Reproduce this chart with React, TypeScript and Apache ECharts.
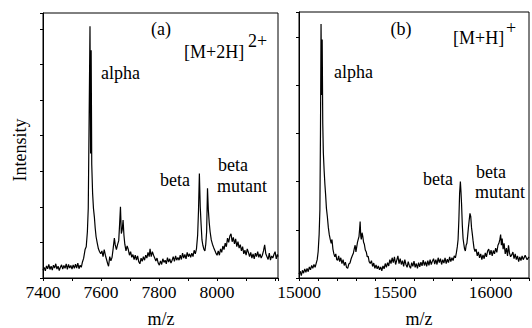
import React, { useEffect, useRef } from "react";
import * as echarts from "echarts";

// Panel (a): [M+2H]2+ spectrum, m/z vs intensity (intensity in y-tick units)
const spectrumA: [number, number][] = [
  [7400, 0.22], [7404, 0.3], [7408, 0.2], [7412, 0.34], [7416, 0.26], [7420, 0.38], [7424, 0.24], [7428, 0.33],
  [7432, 0.22], [7436, 0.36], [7440, 0.28], [7444, 0.4], [7448, 0.25], [7452, 0.33], [7456, 0.21], [7460, 0.3],
  [7464, 0.37], [7468, 0.25], [7472, 0.35], [7476, 0.27], [7480, 0.4], [7484, 0.24], [7488, 0.38], [7492, 0.28],
  [7496, 0.35], [7500, 0.25], [7504, 0.37], [7508, 0.27], [7512, 0.39], [7516, 0.28], [7520, 0.42], [7524, 0.26],
  [7528, 0.36], [7532, 0.3], [7536, 0.45], [7540, 0.55], [7545, 0.8], [7549, 0.88], [7553, 1.3],
  [7556, 1.96], [7559, 4.5], [7562, 7.08], [7564, 3.5], [7566, 6.4], [7568, 3.2], [7571, 2.38], [7574, 1.95],
  [7577, 1.72], [7580, 1.4], [7583, 1.16], [7587, 0.98], [7591, 0.82], [7595, 0.74], [7599, 0.68], [7603, 0.76],
  [7607, 0.6], [7611, 0.8], [7615, 0.64], [7619, 0.52], [7623, 0.4], [7626, 0.33], [7630, 0.6], [7634, 0.48],
  [7638, 0.58], [7642, 0.84], [7646, 1.12], [7649, 0.93], [7653, 0.8], [7657, 0.94], [7661, 1.05], [7664, 1.5],
  [7667, 2.0], [7670, 1.25], [7673, 1.35], [7676, 1.63], [7679, 1.2], [7682, 0.95], [7686, 0.76], [7690, 0.9],
  [7694, 0.8], [7698, 0.64], [7702, 0.74], [7706, 0.58], [7710, 0.66], [7714, 0.52], [7718, 0.64], [7722, 0.5],
  [7726, 0.62], [7730, 0.46], [7734, 0.4], [7738, 0.56], [7742, 0.47], [7746, 0.6], [7750, 0.5], [7754, 0.64],
  [7758, 0.56], [7762, 0.72], [7766, 0.6], [7769, 0.82], [7773, 0.6], [7777, 0.74], [7781, 0.64], [7785, 0.56],
  [7789, 0.48], [7793, 0.56], [7797, 0.42], [7801, 0.36], [7805, 0.48], [7809, 0.38], [7813, 0.54], [7817, 0.44],
  [7821, 0.5], [7825, 0.4], [7829, 0.57], [7833, 0.45], [7837, 0.54], [7841, 0.42], [7845, 0.5], [7849, 0.6],
  [7853, 0.47], [7857, 0.62], [7861, 0.5], [7865, 0.58], [7869, 0.5], [7873, 0.64], [7877, 0.52], [7881, 0.7],
  [7885, 0.56], [7889, 0.66], [7893, 0.54], [7897, 0.72], [7901, 0.6], [7905, 0.68], [7909, 0.58], [7913, 0.7],
  [7917, 0.6], [7921, 0.78], [7925, 0.68], [7929, 0.82], [7933, 1.2], [7936, 1.9], [7939, 2.94], [7942, 2.0],
  [7945, 1.5], [7948, 1.07], [7951, 0.92], [7955, 0.8], [7958, 0.76], [7961, 0.95], [7964, 1.3], [7967, 2.52],
  [7970, 1.9], [7973, 1.55], [7976, 1.3], [7980, 1.07], [7984, 0.95], [7988, 0.86], [7992, 0.78], [7996, 0.7],
  [8000, 0.64], [8004, 0.76], [8008, 0.64], [8012, 0.82], [8016, 0.72], [8020, 0.9], [8024, 0.8], [8028, 0.98],
  [8032, 0.88], [8036, 1.12], [8040, 1.0], [8044, 1.18], [8048, 1.24], [8052, 1.02], [8056, 1.14], [8060, 0.96],
  [8064, 1.1], [8068, 0.88], [8072, 1.02], [8076, 0.84], [8080, 0.94], [8084, 0.76], [8088, 0.88], [8092, 0.68],
  [8096, 0.78], [8100, 0.64], [8104, 0.82], [8108, 0.72], [8112, 0.6], [8116, 0.72], [8120, 0.56], [8124, 0.68],
  [8128, 0.54], [8132, 0.7], [8136, 0.6], [8140, 0.74], [8144, 0.58], [8148, 0.68], [8152, 0.56], [8156, 0.64],
  [8160, 0.76], [8164, 0.93], [8168, 0.68], [8172, 0.6], [8176, 0.52], [8180, 0.7], [8184, 0.5], [8188, 0.62],
  [8192, 0.56], [8196, 0.66], [8200, 0.74], [8204, 0.54], [8208, 0.66], [8210, 0.6],
];

// Panel (b): [M+H]+ spectrum
const spectrumB: [number, number][] = [
  [15000, 0.08], [15006, 0.14], [15012, 0.05], [15018, 0.16], [15024, 0.1], [15030, 0.19], [15036, 0.12], [15042, 0.2],
  [15048, 0.13], [15054, 0.23], [15060, 0.17], [15066, 0.26], [15072, 0.2], [15078, 0.28], [15084, 0.22], [15090, 0.31],
  [15095, 0.38], [15100, 0.55], [15105, 0.9], [15109, 1.41],
  [15112, 3.0], [15115, 5.27], [15118, 3.8], [15121, 4.95], [15124, 3.2], [15127, 2.6], [15131, 2.24], [15135, 1.95],
  [15139, 1.72], [15143, 1.45], [15148, 1.27], [15153, 1.05], [15158, 0.9], [15163, 0.8], [15168, 0.72], [15172, 0.8],
  [15177, 0.6], [15182, 0.5], [15187, 0.44], [15192, 0.5], [15197, 0.38], [15202, 0.37], [15207, 0.46], [15212, 0.34],
  [15218, 0.42], [15224, 0.3], [15230, 0.38], [15236, 0.26], [15242, 0.33], [15248, 0.22], [15254, 0.2], [15260, 0.29],
  [15266, 0.31], [15272, 0.4], [15278, 0.46], [15284, 0.52], [15289, 0.62], [15293, 0.68], [15297, 0.54], [15301, 0.64],
  [15305, 0.74], [15309, 0.8], [15313, 0.86], [15316, 1.0], [15319, 1.17], [15322, 0.88], [15325, 0.8], [15329, 0.94],
  [15333, 0.86], [15337, 0.74], [15341, 0.7], [15346, 0.58], [15351, 0.54], [15356, 0.44], [15361, 0.45], [15366, 0.34],
  [15372, 0.3], [15378, 0.36], [15384, 0.24], [15390, 0.31], [15396, 0.2], [15402, 0.27], [15408, 0.19], [15414, 0.25],
  [15420, 0.17], [15426, 0.23], [15432, 0.15], [15438, 0.25], [15444, 0.19], [15450, 0.3], [15456, 0.22], [15462, 0.32],
  [15468, 0.25], [15474, 0.38], [15480, 0.3], [15486, 0.42], [15492, 0.32], [15498, 0.44], [15504, 0.28], [15510, 0.37],
  [15516, 0.46], [15522, 0.3], [15528, 0.4], [15534, 0.28], [15540, 0.36], [15546, 0.24], [15552, 0.38], [15558, 0.28],
  [15564, 0.22], [15570, 0.34], [15576, 0.25], [15582, 0.2], [15588, 0.32], [15594, 0.24], [15600, 0.35], [15606, 0.22],
  [15612, 0.3], [15618, 0.2], [15624, 0.32], [15630, 0.23], [15636, 0.33], [15642, 0.25], [15648, 0.37], [15654, 0.26],
  [15660, 0.34], [15666, 0.24], [15672, 0.36], [15678, 0.26], [15684, 0.38], [15690, 0.28], [15696, 0.35], [15702, 0.4],
  [15708, 0.29], [15714, 0.38], [15720, 0.28], [15726, 0.42], [15732, 0.32], [15738, 0.4], [15744, 0.28], [15750, 0.38],
  [15756, 0.31], [15762, 0.42], [15768, 0.3], [15774, 0.39], [15780, 0.32], [15786, 0.44], [15792, 0.34], [15798, 0.42],
  [15804, 0.36], [15810, 0.46], [15816, 0.42], [15821, 0.52], [15826, 0.65], [15830, 0.8], [15834, 1.2], [15838, 1.76],
  [15842, 2.0], [15845, 1.8], [15848, 1.55], [15852, 1.1], [15856, 0.82], [15860, 0.7], [15864, 0.6], [15868, 0.56],
  [15872, 0.68], [15876, 0.72], [15880, 0.88], [15884, 1.05], [15888, 1.2], [15892, 1.34], [15896, 1.28], [15900, 1.05],
  [15904, 0.92], [15908, 0.78], [15913, 0.62], [15918, 0.55], [15924, 0.6], [15930, 0.46], [15936, 0.54], [15942, 0.42],
  [15948, 0.5], [15954, 0.38], [15960, 0.48], [15966, 0.4], [15972, 0.52], [15978, 0.44], [15984, 0.56], [15990, 0.6],
  [15996, 0.48], [16002, 0.58], [16008, 0.46], [16014, 0.57], [16020, 0.5], [16026, 0.62], [16032, 0.53], [16038, 0.68],
  [16043, 0.72], [16048, 0.8], [16052, 0.9], [16056, 0.68], [16060, 0.82], [16065, 0.6], [16070, 0.72], [16076, 0.5],
  [16082, 0.62], [16088, 0.46], [16093, 0.68], [16098, 0.52], [16104, 0.44], [16110, 0.48], [16116, 0.54], [16122, 0.4],
  [16128, 0.5], [16134, 0.38], [16140, 0.46], [16146, 0.34], [16152, 0.44], [16158, 0.36], [16164, 0.46], [16170, 0.38],
  [16180, 0.47], [16190, 0.38], [16200, 0.44],
];

const labeledTicksA = [7400, 7600, 7800, 8000];
const labeledTicksB = [15000, 15500, 16000];
const xLabel = "m/z";
const yLabel = "Intensity";

const FONT = "Liberation Serif";

export default function App() {
  const ref = useRef<HTMLDivElement>(null);
  useEffect(() => {
    if (!ref.current) return;
    const chart = echarts.init(ref.current, undefined, { renderer: "svg" });
    const axisCommon = {
      axisLine: { show: true, lineStyle: { color: "#000", width: 1 } },
      axisTick: { show: true, inside: false, length: 3, lineStyle: { color: "#000" } },
      splitLine: { show: false },
    };
    const txt = (text: string, x: number, y: number, align = "left", size = 18) => ({
      type: "text",
      x,
      y,
      style: { text, fill: "#000", fontFamily: FONT, fontSize: size, align, verticalAlign: "middle" },
    });
    chart.setOption({
      animation: false,
      backgroundColor: "#fff",
      textStyle: { fontFamily: FONT },
      grid: [
        { left: 43, top: 13, width: 235, height: 265, show: true, borderColor: "#000", borderWidth: 1, backgroundColor: "transparent" },
        { left: 299, top: 12, width: 240, height: 266, show: true, borderColor: "#000", borderWidth: 1, backgroundColor: "transparent" },
      ],
      xAxis: [
        {
          type: "value", gridIndex: 0, min: 7400, max: 8210, interval: 100, ...axisCommon,
          axisLabel: {
            margin: 5, color: "#000", fontFamily: FONT, fontSize: 17.5,
            formatter: (v: number) => (labeledTicksA.includes(v) ? String(v) : ""),
          },
        },
        {
          type: "value", gridIndex: 1, min: 15000, max: 16200, interval: 100, ...axisCommon,
          axisLabel: {
            margin: 5, color: "#000", fontFamily: FONT, fontSize: 17.5,
            formatter: (v: number) => (labeledTicksB.includes(v) ? String(v) : ""),
          },
        },
      ],
      yAxis: [
        { type: "value", gridIndex: 0, min: 0, max: 7.45, interval: 1, ...axisCommon, axisLabel: { show: false } },
        { type: "value", gridIndex: 1, min: 0, max: 5.52, interval: 1, ...axisCommon, axisLabel: { show: false } },
      ],
      series: [
        {
          type: "line", xAxisIndex: 0, yAxisIndex: 0, data: spectrumA, showSymbol: false,
          lineStyle: { color: "#000", width: 1.2 }, silent: true,
        },
        {
          type: "line", xAxisIndex: 1, yAxisIndex: 1, data: spectrumB, showSymbol: false,
          lineStyle: { color: "#000", width: 1.2 }, silent: true,
        },
      ],
      graphic: [
        txt("(a)", 161, 29, "center"),
        txt("[M+2H]", 184, 52),
        txt("2+", 248, 41),
        txt("alpha", 101, 73),
        txt("beta", 160, 180),
        txt("beta", 218, 165),
        txt("mutant", 217, 186),
        txt("(b)", 401, 29, "center"),
        txt("[M+H]", 453, 38),
        txt("+", 506, 28),
        txt("alpha", 334, 72),
        txt("beta", 423, 179),
        txt("beta", 476, 172),
        txt("mutant", 475, 192),
        txt(xLabel, 161, 319, "center"),
        txt(xLabel, 419, 319, "center"),
        { ...txt(yLabel, 20, 150, "center"), rotation: Math.PI / 2 },
      ],
    });
    return () => chart.dispose();
  }, []);
  return <div ref={ref} style={{ position: "absolute", left: 0, top: 0, width: 532, height: 328 }} />;
}
